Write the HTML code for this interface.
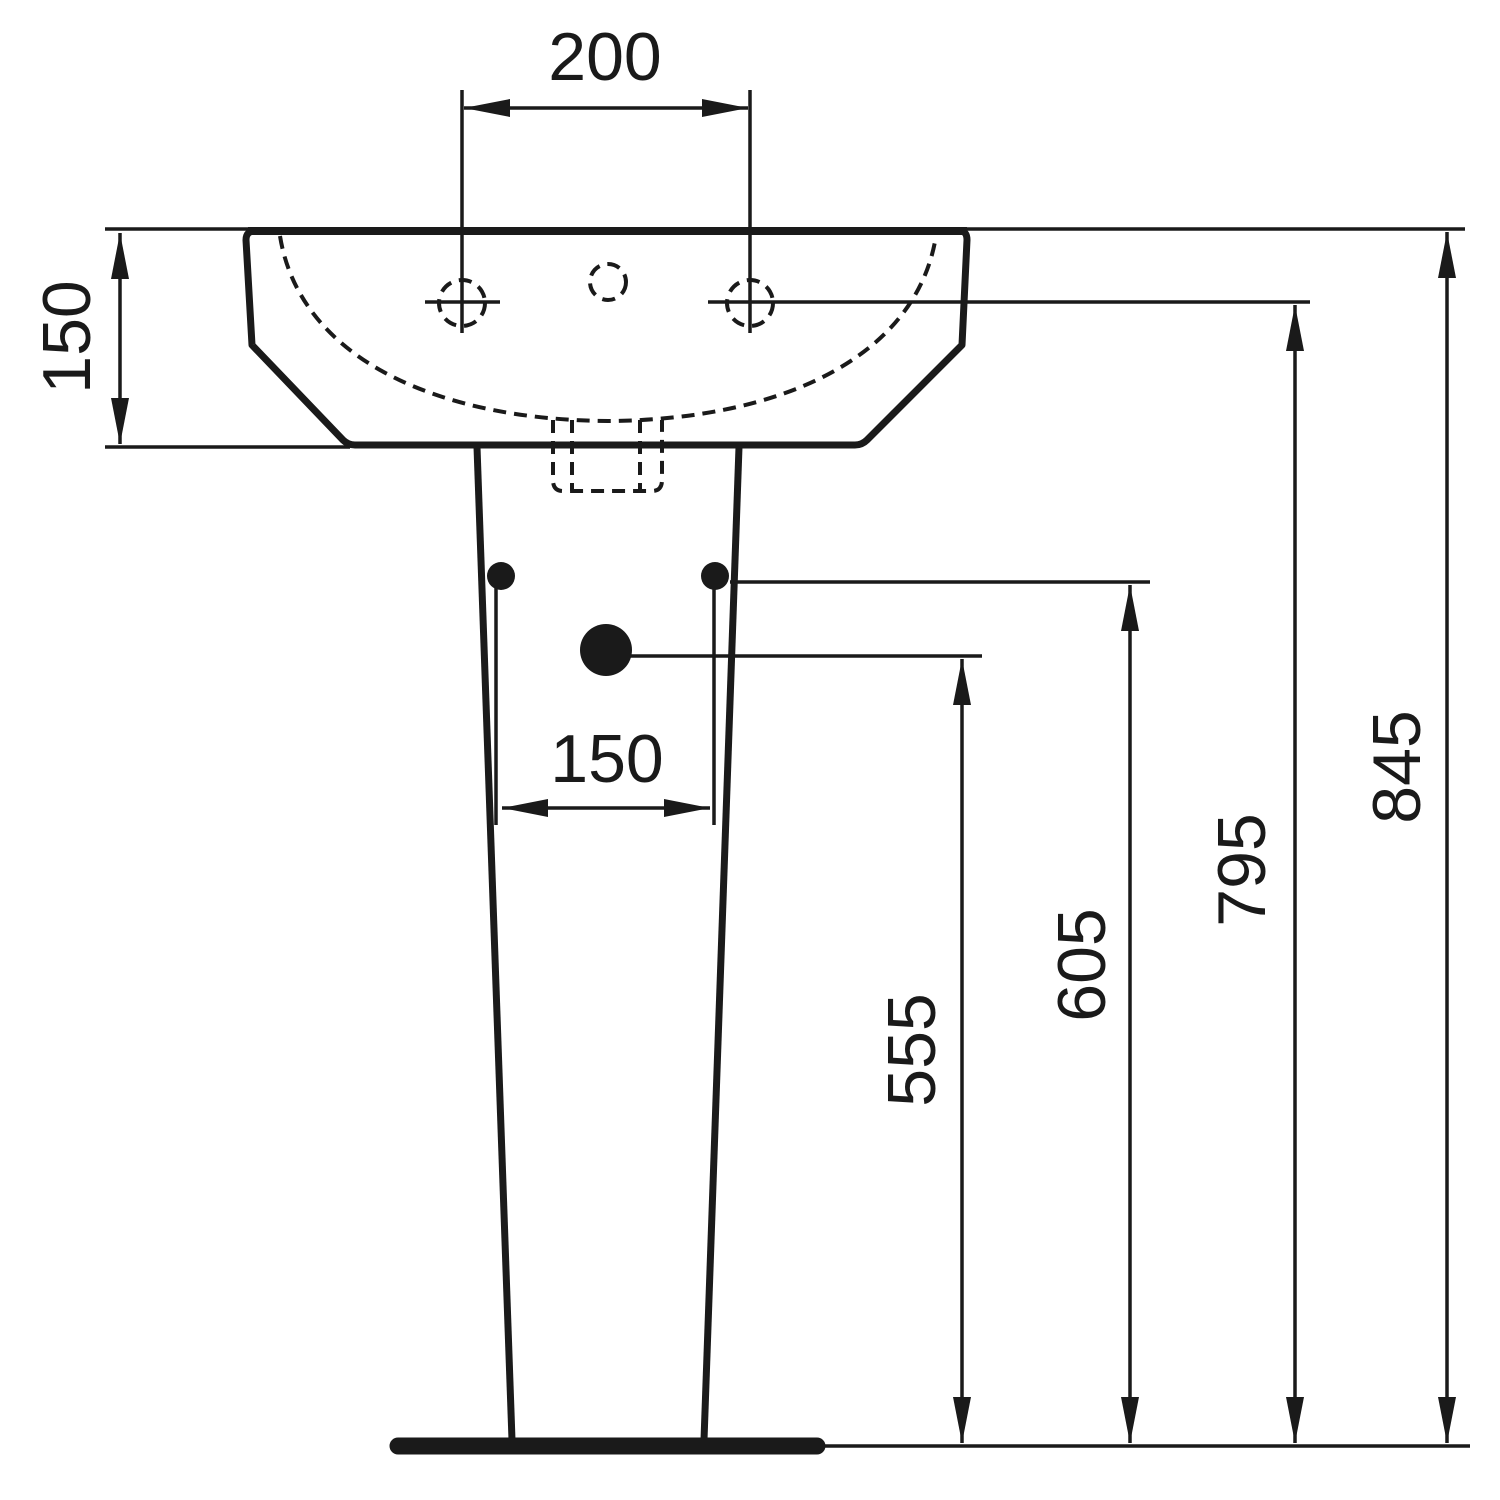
<!DOCTYPE html>
<html><head><style>body{margin:0;background:#fff}svg{display:block}</style></head><body>
<svg width="1500" height="1500" viewBox="0 0 1500 1500" xmlns="http://www.w3.org/2000/svg">
<defs>
<marker id="b" viewBox="0 0 46 18" refX="46" refY="9" markerWidth="46" markerHeight="18" markerUnits="userSpaceOnUse" orient="auto-start-reverse"><path d="M0,0 L46,9 L0,18 Z" fill="#1a1a1a"/></marker>
</defs>
<g stroke="#1a1a1a" fill="none" stroke-width="3.5">
<line x1="105" y1="229" x2="1465" y2="229"/>
<line x1="105" y1="447" x2="350" y2="447"/>
<line x1="462" y1="90" x2="462" y2="333"/>
<line x1="750" y1="90" x2="750" y2="333"/>
<line x1="425" y1="302" x2="500" y2="302"/>
<line x1="708" y1="302" x2="1310" y2="302"/>
<line x1="730" y1="582" x2="1150" y2="582"/>
<line x1="606" y1="656" x2="982" y2="656"/>
<line x1="825" y1="1446" x2="1470" y2="1446"/>
<line x1="464" y1="108" x2="748" y2="108" marker-start="url(#b)" marker-end="url(#b)"/>
<line x1="120" y1="233" x2="120" y2="444" marker-start="url(#b)" marker-end="url(#b)"/>
<line x1="502" y1="808" x2="710" y2="808" marker-start="url(#b)" marker-end="url(#b)"/>
<line x1="962" y1="659" x2="962" y2="1443" marker-start="url(#b)" marker-end="url(#b)"/>
<line x1="1130" y1="585" x2="1130" y2="1443" marker-start="url(#b)" marker-end="url(#b)"/>
<line x1="1295" y1="305" x2="1295" y2="1443" marker-start="url(#b)" marker-end="url(#b)"/>
<line x1="1447" y1="232" x2="1447" y2="1443" marker-start="url(#b)" marker-end="url(#b)"/>
<path d="M255,231 L960,231 Q967,231 967,240 L962,345 L867,440 Q862,445 855,445 L355,445 Q348,445 343,440 L252,345 L246,240 Q246,231 255,231 Z" stroke-width="7" stroke-linejoin="round"/>
<line x1="248" y1="231" x2="967" y2="231" stroke-width="8"/>
<g stroke-dasharray="13,8" stroke-width="4">
<path d="M280,236 C300,360 440,420 608,421 C776,420 916,360 936,236"/>
<circle cx="608" cy="282" r="18"/>
<circle cx="462" cy="303" r="23"/>
<circle cx="750" cy="303" r="23"/>
<path d="M553,420 L553,480 Q553,491 563,491 L652,491 Q662,491 662,480 L662,420"/>
<path d="M572,420 L572,491 M640,420 L640,491"/>
</g>
<line x1="477" y1="447" x2="512" y2="1440" stroke-width="7"/>
<line x1="739" y1="447" x2="704" y2="1440" stroke-width="7"/>
<line x1="496" y1="580" x2="496" y2="825" stroke-width="3.5"/>
<line x1="714" y1="580" x2="714" y2="825" stroke-width="3.5"/>
<line x1="398" y1="1446" x2="817" y2="1446" stroke-width="17" stroke-linecap="round"/>
</g>
<g fill="#1a1a1a">
<circle cx="501" cy="576" r="14"/>
<circle cx="715" cy="576" r="14"/>
<circle cx="606" cy="650" r="26"/>
</g>
<g font-family="Liberation Sans, sans-serif" font-size="68" fill="#1a1a1a" text-anchor="middle">
<text x="605" y="80">200</text>
<text x="607" y="782">150</text>
<text transform="translate(90,337) rotate(-90)">150</text>
<text transform="translate(935,1050) rotate(-90)">555</text>
<text transform="translate(1105,965) rotate(-90)">605</text>
<text transform="translate(1265,870) rotate(-90)">795</text>
<text transform="translate(1420,767) rotate(-90)">845</text>
</g>
</svg>
</body></html>
